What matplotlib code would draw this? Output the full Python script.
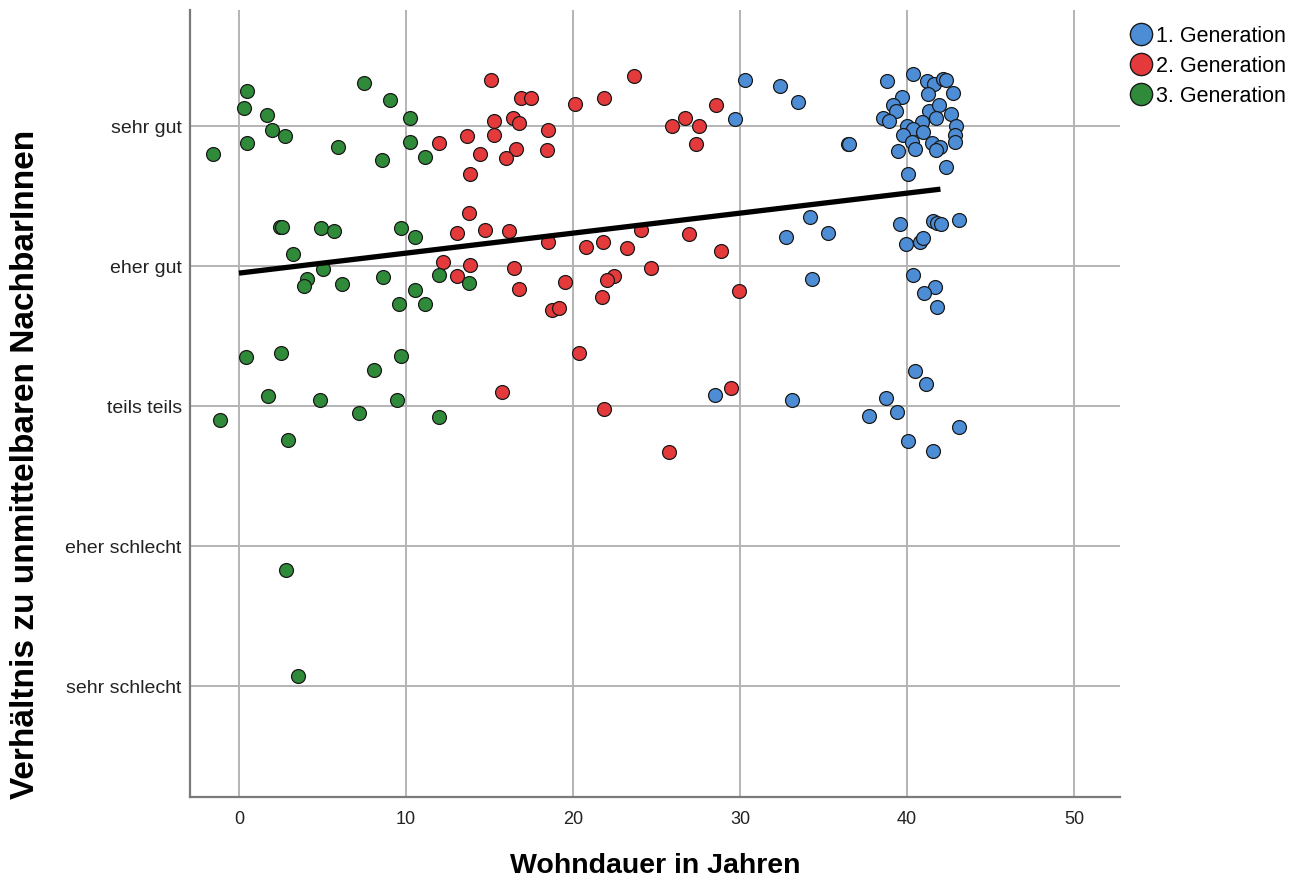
import matplotlib
matplotlib.use("Agg")
import matplotlib.pyplot as plt
from matplotlib.lines import Line2D

# ---- data ----
categories = ["sehr schlecht", "eher schlecht", "teils teils", "eher gut", "sehr gut"]
cat_values = [1, 2, 3, 4, 5]
x_ticks = [0, 10, 20, 30, 40, 50]
legend_labels = ["1. Generation", "2. Generation", "3. Generation"]

gen1_x = [30.32, 32.41, 33.47, 29.72, 36.45, 36.55,
          38.82, 40.38, 41.18, 41.62, 42.14, 42.34, 41.28, 42.74, 39.68, 39.14,
          39.34, 38.58, 38.94, 41.34, 41.93, 42.62, 41.74, 39.98, 40.88, 40.38,
          39.78, 40.98, 42.93, 42.87, 42.87, 40.28, 41.48, 41.98, 41.74, 40.48,
          39.48, 42.34, 40.08,
          34.19, 32.75, 35.29, 39.58, 39.94, 40.78, 40.94, 41.57, 41.78, 42.05,
          43.10, 34.29, 40.36, 41.66, 41.02, 41.81, 40.50, 41.14, 28.52, 33.10,
          38.76, 37.74, 39.42, 43.10, 40.06, 41.57]
gen1_y = [5.33, 5.29, 5.17, 5.05, 4.87, 4.87,
          5.32, 5.37, 5.32, 5.30, 5.34, 5.33, 5.23, 5.24, 5.21, 5.15,
          5.11, 5.06, 5.04, 5.11, 5.15, 5.09, 5.06, 5.00, 5.03, 4.98,
          4.94, 4.96, 5.00, 4.94, 4.89, 4.89, 4.88, 4.85, 4.83, 4.84,
          4.82, 4.71, 4.66,
          4.35, 4.21, 4.24, 4.30, 4.16, 4.17, 4.20, 4.32, 4.31, 4.30,
          4.33, 3.91, 3.94, 3.85, 3.81, 3.71, 3.25, 3.16, 3.08, 3.04,
          3.06, 2.93, 2.96, 2.85, 2.75, 2.68]

gen2_x = [15.09, 16.87, 17.50, 20.12, 21.87, 23.63, 15.29, 16.39, 16.75, 18.52,
          11.98, 13.65, 15.25, 14.45, 16.59, 15.97, 18.46, 13.83, 25.91, 26.71,
          27.54, 28.56, 27.37, 13.75, 13.07, 14.71, 16.17, 18.50, 20.78, 21.81,
          23.22, 24.09, 12.23, 13.85, 13.07, 16.49, 16.78, 19.50, 22.46, 22.02,
          24.69, 21.74, 18.76, 19.18, 20.34, 15.73, 21.87, 25.73, 26.95, 28.86,
          29.94, 29.44]
gen2_y = [5.33, 5.20, 5.20, 5.16, 5.20, 5.36, 5.04, 5.06, 5.02, 4.97,
          4.88, 4.93, 4.94, 4.80, 4.84, 4.77, 4.83, 4.66, 5.00, 5.06,
          5.00, 5.15, 4.87, 4.38, 4.24, 4.26, 4.25, 4.17, 4.14, 4.17,
          4.13, 4.26, 4.03, 4.01, 3.93, 3.99, 3.84, 3.89, 3.93, 3.90,
          3.99, 3.78, 3.69, 3.70, 3.38, 3.10, 2.98, 2.67, 4.23, 4.11,
          3.82, 3.13]

gen3_x = [0.46, 0.32, 1.69, 1.98, 2.77, 0.46, -1.57, 7.47, 9.06, 10.24,
          5.91, 10.24, 8.56, 11.16, 2.48, 2.58, 4.93, 5.71, 9.68, 10.52,
          3.23, 5.05, 4.05, 3.89, 6.19, 8.62, 11.96, 13.79, 10.56, 9.56,
          11.12, 0.42, 2.50, 9.70, 8.10, 1.74, 4.83, 9.46, 7.19, 11.96,
          -1.12, 2.92, 2.81, 3.51]
gen3_y = [5.25, 5.13, 5.08, 4.97, 4.93, 4.88, 4.80, 5.31, 5.19, 5.06,
          4.85, 4.89, 4.76, 4.78, 4.28, 4.28, 4.27, 4.25, 4.27, 4.21,
          4.09, 3.98, 3.91, 3.86, 3.87, 3.92, 3.94, 3.88, 3.83, 3.73,
          3.73, 3.35, 3.38, 3.36, 3.26, 3.07, 3.04, 3.04, 2.95, 2.92,
          2.90, 2.76, 1.83, 1.07]

fit_x = [0.0, 42.0]
fit_y = [3.95, 4.55]

# ---- style ----
col1 = "#4d8dd6"
col2 = "#e43a3c"
col3 = "#2f8a3a"
grid_col = "#b4b4b4"
fam = ["Liberation Sans Narrow", "Liberation Sans", "DejaVu Sans"]

fig = plt.figure(figsize=(12.95, 8.81), dpi=100)
ax = fig.add_axes([190/1295, 1-797/881, (1120-190)/1295, (797-10)/881])

ax.set_xlim(-2.93, 52.75)
ax.set_ylim(0.207, 5.83)

for v in x_ticks:
    ax.axvline(v, color=grid_col, lw=1.4, zorder=0)
for v in cat_values:
    ax.axhline(v, color=grid_col, lw=1.4, zorder=0)

msize = 100
ax.scatter(gen1_x, gen1_y, s=msize, c=col1, edgecolors="#1a1a1a", linewidths=0.9, zorder=3)
ax.scatter(gen2_x, gen2_y, s=msize, c=col2, edgecolors="#1a1a1a", linewidths=0.9, zorder=3)
ax.scatter(gen3_x, gen3_y, s=msize, c=col3, edgecolors="#1a1a1a", linewidths=0.9, zorder=3)
ax.plot(fit_x, fit_y, color="black", lw=3.8, solid_capstyle="butt", zorder=4)

ax.set_xticks(x_ticks)
ax.set_xticklabels([str(v) for v in x_ticks], fontsize=13, family=fam, color="#222222")
ax.set_yticks(cat_values)
ax.set_yticklabels(categories, fontsize=14, family=["Liberation Sans", "DejaVu Sans"], color="#222222")
ax.tick_params(axis="y", length=0, pad=6)
ax.tick_params(axis="x", length=0, pad=10)

for s in ["top", "right"]:
    ax.spines[s].set_visible(False)
for s in ["left", "bottom"]:
    ax.spines[s].set_color("#7a7a7a")
    ax.spines[s].set_linewidth(1.6)

fig.text(655/1295, 1-866/881, "Wohndauer in Jahren", ha="center", va="center",
         fontsize=20.5, fontweight="bold", family=fam)
fig.text(26/1295, 1-464/881, "Verhältnis zu unmittelbaren NachbarInnen", ha="center", va="center",
         rotation=90, fontsize=24, fontweight="bold", family=fam)

handles = [Line2D([], [], marker="o", ls="none", markersize=16, markerfacecolor=c,
                  markeredgecolor="#1a1a1a", markeredgewidth=1.0) for c in (col1, col2, col3)]
leg = fig.legend(handles, legend_labels, loc="upper left", bbox_to_anchor=(1118/1295, 1-17/881),
                 frameon=False, handletextpad=0.05, labelspacing=0.42, handlelength=1.3,
                 borderaxespad=0, prop={"family": fam, "size": 15.5})

fig.savefig("out.png", dpi=100, facecolor="white")
